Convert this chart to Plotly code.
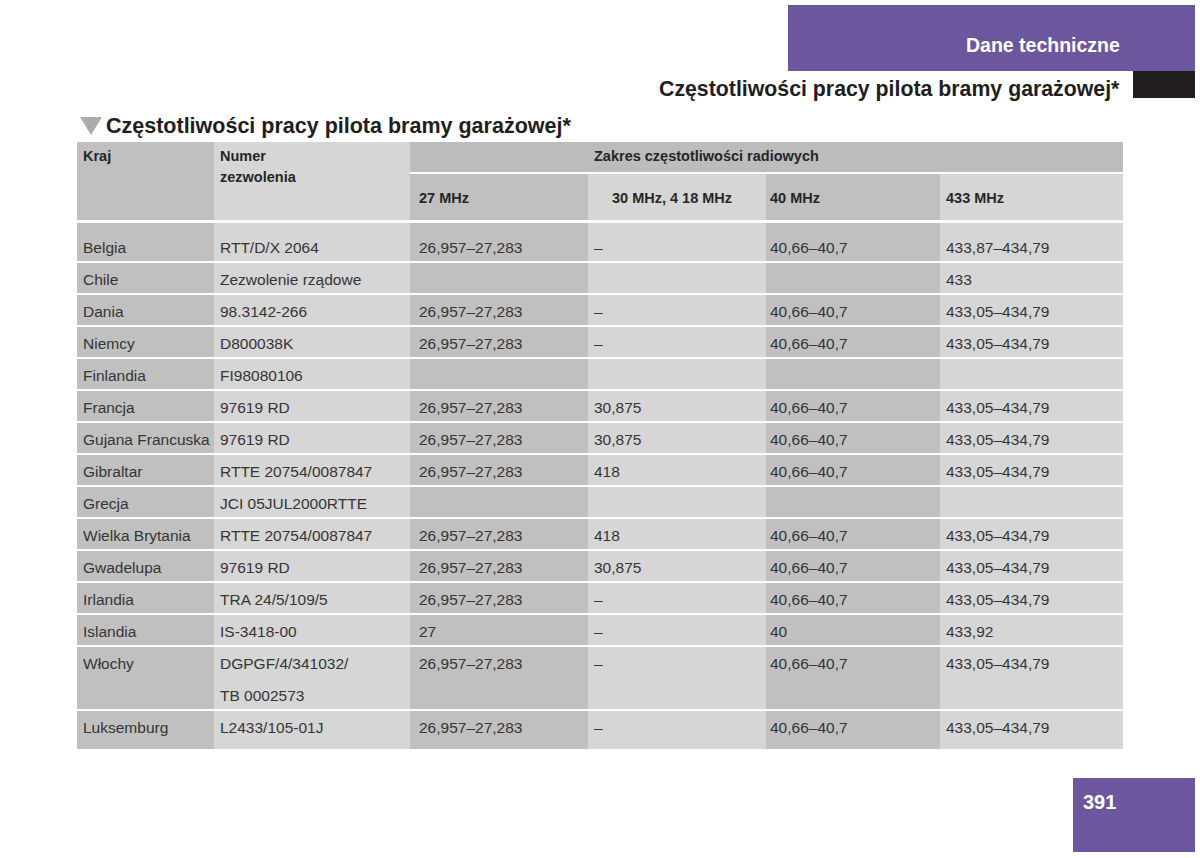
import plotly.graph_objects as go

# ── data ────────────────────────────────────────────────────────────────────
countries = ["Belgia", "Chile", "Dania", "Niemcy", "Finlandia", "Francja",
             "Gujana Francuska", "Gibraltar", "Grecja", "Wielka Brytania",
             "Gwadelupa", "Irlandia", "Islandia", "Włochy", "Luksemburg"]
permits = ["RTT/D/X 2064", "Zezwolenie rządowe", "98.3142-266", "D800038K",
           "FI98080106", "97619 RD", "97619 RD", "RTTE 20754/0087847",
           "JCI 05JUL2000RTTE", "RTTE 20754/0087847", "97619 RD",
           "TRA 24/5/109/5", "IS-3418-00", "DGPGF/4/341032/|TB 0002573",
           "L2433/105-01J"]
f27 = ["26,957–27,283", "", "26,957–27,283", "26,957–27,283", "",
       "26,957–27,283", "26,957–27,283", "26,957–27,283", "", "26,957–27,283",
       "26,957–27,283", "26,957–27,283", "27", "26,957–27,283", "26,957–27,283"]
f30 = ["–", "", "–", "–", "", "30,875", "30,875", "418", "", "418",
       "30,875", "–", "–", "–", "–"]
f40 = ["40,66–40,7", "", "40,66–40,7", "40,66–40,7", "", "40,66–40,7",
       "40,66–40,7", "40,66–40,7", "", "40,66–40,7", "40,66–40,7",
       "40,66–40,7", "40", "40,66–40,7", "40,66–40,7"]
f433 = ["433,87–434,79", "433", "433,05–434,79", "433,05–434,79", "",
        "433,05–434,79", "433,05–434,79", "433,05–434,79", "", "433,05–434,79",
        "433,05–434,79", "433,05–434,79", "433,92", "433,05–434,79",
        "433,05–434,79"]
band_headers = ["27 MHz", "30 MHz, 4 18 MHz", "40 MHz", "433 MHz"]
title = "Częstotliwości pracy pilota bramy garażowej*"

# ── style ───────────────────────────────────────────────────────────────────
PURPLE = "#6c579e"
DARK = "#c0c0c0"
LIGHT = "#d6d6d6"
BAND = "#bcbcbc"
TXT = "#353535"
HEAD = "#262626"
FONT = "Liberation Sans"

col_x = [77, 214, 410, 588, 766, 940, 1123]
col_fill = [DARK, LIGHT, DARK, LIGHT, DARK, LIGHT]
text_x = [81, 218, 417, 592, 768, 944]
head_x = [417, 610, 768, 944]

fig = go.Figure()
shapes, ann = [], []


def rect(x0, y0, x1, y1, color):
    shapes.append(dict(type="rect", xref="x", yref="y", x0=x0, x1=x1, y0=y0, y1=y1,
                       fillcolor=color, line=dict(width=0), layer="below"))


def text(x, y, s, size=15.5, color=TXT, bold=False, xanchor="left"):
    ann.append(dict(x=x, y=y, xref="x", yref="y", text=f"<b>{s}</b>" if bold else s,
                    showarrow=False, xanchor=xanchor, yanchor="middle",
                    font=dict(family=FONT, size=size, color=color)))


# page chrome
rect(788, 5, 1195, 71, PURPLE)
rect(1133, 71, 1195, 98, "#231f20")
rect(1073, 778, 1195, 852, PURPLE)
text(1122, 45, "Dane techniczne", size=19.5, color="white", bold=True, xanchor="right")
text(1122, 89, title, size=21.3, color="#1e1e1e", bold=True, xanchor="right")
text(1081, 802, "391", size=20, color="white", bold=True)
shapes.append(dict(type="path", xref="x", yref="y", path="M 80 117 L 102 117 L 91 135 Z",
                   fillcolor="#ababab", line=dict(width=0)))
text(104, 126, title, size=21.5, color="#1e1e1e", bold=True)

# header
rect(col_x[0], 142, col_x[1], 220, DARK)
rect(col_x[1], 142, col_x[2], 220, LIGHT)
rect(col_x[2], 142, col_x[6], 172, BAND)
for j in range(4):
    rect(col_x[j + 2], 174, col_x[j + 3], 220, col_fill[j + 2])
    text(head_x[j], 198, band_headers[j], size=14.5, bold=True, color=HEAD)
text(text_x[0], 156, "Kraj", size=14.5, bold=True, color=HEAD)
text(text_x[1], 156, "Numer", size=14.5, bold=True, color=HEAD)
text(text_x[1], 177, "zezwolenia", size=14.5, bold=True, color=HEAD)
text(592, 156, "Zakres częstotliwości radiowych", size=14.5, bold=True, color=HEAD)

# body
y = 223
n = len(countries)
for i in range(n):
    cells = [countries[i], permits[i], f27[i], f30[i], f40[i], f433[i]]
    lines = max(len(c.split("|")) for c in cells)
    top_pad = 8 if i == 0 else 0
    bot_pad = 8 if i == n - 1 else 0
    h = 32 * lines - 2 + top_pad + bot_pad
    for j, c in enumerate(cells):
        rect(col_x[j], y, col_x[j + 1], y + h, col_fill[j])
        for k, part in enumerate(c.split("|")):
            if part:
                text(text_x[j], y + top_pad + 16 + 32 * k, part)
    y += h + 2

fig.update_layout(
    width=1200, height=858,
    margin=dict(l=0, r=0, t=0, b=0),
    paper_bgcolor="white", plot_bgcolor="white",
    xaxis=dict(range=[0, 1200], visible=False, fixedrange=True),
    yaxis=dict(range=[858, 0], visible=False, fixedrange=True),
    shapes=shapes, annotations=ann, showlegend=False,
)
# drop the browser's default 8px body margin so page pixels match the axes
fig.write_html("out.html", post_script="document.body.style.margin='0';",
               config={"displayModeBar": False})
